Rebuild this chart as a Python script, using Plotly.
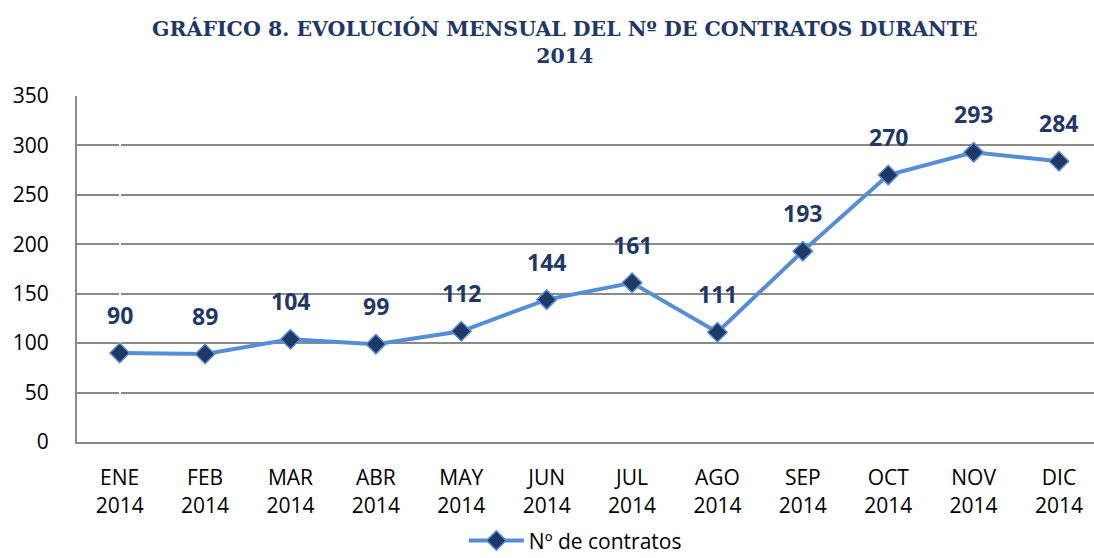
import plotly.graph_objects as go

months = ["ENE", "FEB", "MAR", "ABR", "MAY", "JUN", "JUL", "AGO", "SEP", "OCT", "NOV", "DIC"]
year = "2014"
contratos = [90, 89, 104, 99, 112, 144, 161, 111, 193, 270, 293, 284]
y_ticks = [0, 50, 100, 150, 200, 250, 300, 350]
title_lines = ["GRÁFICO 8. EVOLUCIÓN MENSUAL DEL Nº DE CONTRATOS DURANTE", "2014"]

categories = [f"{m}<br>{year}" for m in months]
xs = list(range(len(months)))

navy = "#1F3864"
blue = "#558ED5"
grid = "#8A8A8A"

fig = go.Figure()
fig.add_trace(go.Scatter(
    x=xs, y=contratos, mode="lines+markers", name="Nº de contratos",
    line=dict(color=blue, width=4),
    marker=dict(symbol="diamond", size=15, color=navy, line=dict(color=blue, width=1.5)),
))

for xi, v in zip(xs, contratos):
    fig.add_annotation(x=xi, y=v, text=f"<b>{v}</b>", showarrow=False, yshift=38,
                       font=dict(family="Open Sans", size=23, color=navy))

fig.add_annotation(xref="paper", yref="paper", x=0.48, y=1.155, xanchor="center", yanchor="middle",
                   text="<b>" + "<br>".join(title_lines) + "</b>", showarrow=False,
                   font=dict(family="DejaVu Serif", size=20.5, color=navy))

fig.update_layout(
    width=1094, height=558,
    paper_bgcolor="white", plot_bgcolor="white",
    margin=dict(l=77, r=0, t=96, b=116, autoexpand=False),
    xaxis=dict(tickmode="array", tickvals=xs, ticktext=categories, range=[-0.5, 11.41],
               showgrid=False, showline=True, linecolor=grid, linewidth=2,
               ticks="", ticklabelstandoff=16, automargin=False,
               tickfont=dict(family="Open Sans", size=21, color="black")),
    yaxis=dict(range=[0, 350], tickvals=y_ticks, showgrid=True, gridcolor=grid, gridwidth=1.5,
               showline=True, linecolor=grid, linewidth=2, zeroline=False, ticks="",
               ticklabelstandoff=22, automargin=False,
               tickfont=dict(family="Open Sans", size=21, color="black")),
    legend=dict(orientation="h", x=0.49, xanchor="center", y=-0.345, yanchor="bottom",
                font=dict(family="Open Sans", size=21, color="black"), itemwidth=55),
    showlegend=True,
)

fig.write_html("out.html", config={"displayModeBar": False},
               post_script="document.body.style.margin='0';document.body.style.overflow='hidden';")
